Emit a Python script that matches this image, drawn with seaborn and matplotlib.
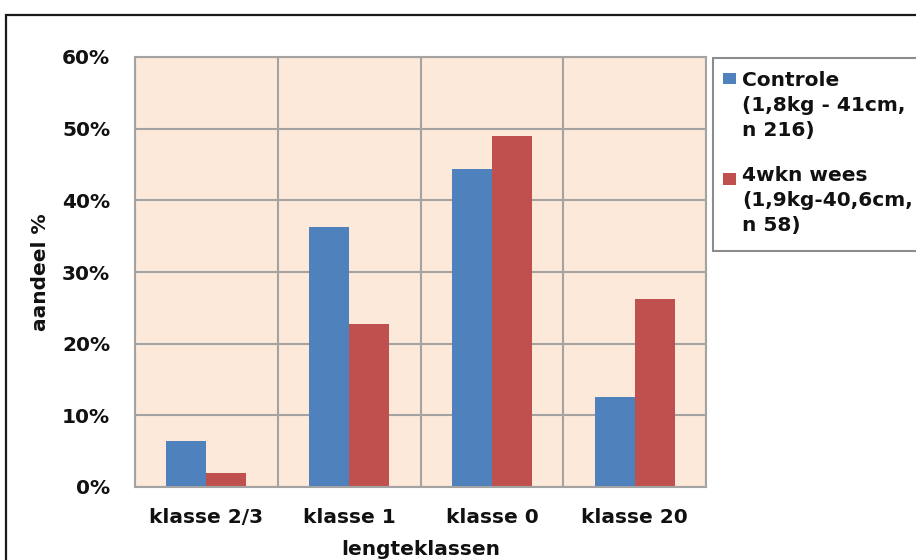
import matplotlib
matplotlib.use("Agg")
import matplotlib.pyplot as plt
from matplotlib.patches import Rectangle
from matplotlib.ticker import PercentFormatter
import pandas as pd
import seaborn as sns

# Share of fish per length class (percent)
categories = ["klasse 2/3", "klasse 1", "klasse 0", "klasse 20"]
series_names = ["Controle\n(1,8kg - 41cm,\nn 216)", "4wkn wees\n(1,9kg-40,6cm,\nn 58)"]
controle = [6.4, 36.3, 44.4, 12.6]
wees = [1.9, 22.8, 49.0, 26.3]
y_ticks = [0, 10, 20, 30, 40, 50, 60]

df = pd.DataFrame({
    "klasse": categories * 2,
    "groep": [series_names[0]] * len(categories) + [series_names[1]] * len(categories),
    "aandeel": controle + wees,
})

sns.set_style("white")
plt.rcParams["font.family"] = ["DejaVu Sans"]
plt.rcParams["font.weight"] = "bold"

W, H = 916, 560
FS = 14.5
BLUE, RED = "#4F81BD", "#C0504D"
PEACH = "#FDE9D9"
GRID = "#A3A3A3"
TXT = "#111111"

fig = plt.figure(figsize=(W / 100, H / 100), dpi=100)
fig.patch.set_facecolor("white")

# plot area in pixel coordinates: x 135..706, y 57..487
ax = fig.add_axes([135 / W, 1 - 487 / H, (706 - 135) / W, (487 - 57) / H])
ax.set_facecolor(PEACH)

sns.barplot(data=df, x="klasse", y="aandeel", hue="groep",
            palette=[BLUE, RED], saturation=1, width=0.56, gap=0,
            edgecolor="none", linewidth=0, ax=ax, legend=True)
handles, labels = ax.get_legend_handles_labels()
ax.get_legend().remove()

ax.set_xlim(-0.5, len(categories) - 0.5)
ax.set_ylim(0, 60)
ax.set_yticks(y_ticks)
ax.yaxis.set_major_formatter(PercentFormatter(100, decimals=0))
ax.set_xticks([i - 0.5 for i in range(len(categories) + 1)], minor=True)

ax.set_axisbelow(True)
ax.grid(False)
ax.yaxis.grid(True, which="major", color=GRID, lw=1.5)
ax.xaxis.grid(True, which="minor", color=GRID, lw=1.5)

for s in ax.spines.values():
    s.set_color(GRID)
    s.set_linewidth(1.5)

ax.tick_params(axis="y", length=5.8, width=1.5, color=GRID, pad=12,
               labelsize=FS, labelcolor=TXT)
ax.tick_params(axis="x", which="major", length=0, pad=15,
               labelsize=FS, labelcolor=TXT)
ax.tick_params(axis="x", which="minor", length=5.8, width=1.5, color=GRID)
for lab in ax.get_xticklabels() + ax.get_yticklabels():
    lab.set_fontweight("bold")

ax.set_xlabel("")
ax.set_ylabel("")

# axis titles
fig.text(40 / W, 1 - 272 / H, "aandeel %", rotation=90, ha="center", va="center",
         fontsize=FS, fontweight="bold", color=TXT)
fig.text(420.5 / W, 1 - 555 / H, "lengteklassen", ha="center", va="baseline",
         fontsize=FS, fontweight="bold", color=TXT)

# legend box, running off the right edge
fig.patches.append(Rectangle((713 / W, 1 - 251 / H), 400 / W, (251 - 58) / H,
                             transform=fig.transFigure, facecolor="white",
                             edgecolor="#8C8C8C", lw=1.5))
entry_tops = [71.5, 166.5]
square_centres = [78.7, 179.0]
for h, lab, top, sq in zip(handles, labels, entry_tops, square_centres):
    fig.patches.append(Rectangle((722.5 / W, 1 - (sq + 5.5) / H), 13 / W, 11 / H,
                                 transform=fig.transFigure,
                                 facecolor=h.get_facecolor(), edgecolor="none"))
    fig.text(742 / W, 1 - top / H, lab, ha="left", va="top", fontsize=FS,
             fontweight="bold", color=TXT, linespacing=1.37)

# chart frame
fig.patches.append(Rectangle((6 / W, -0.2), 2.0, 1 - 14.5 / H + 0.2,
                             transform=fig.transFigure, fill=False,
                             edgecolor="#1A1A1A", lw=1.6))

fig.savefig("out.png", dpi=100, facecolor="white")
